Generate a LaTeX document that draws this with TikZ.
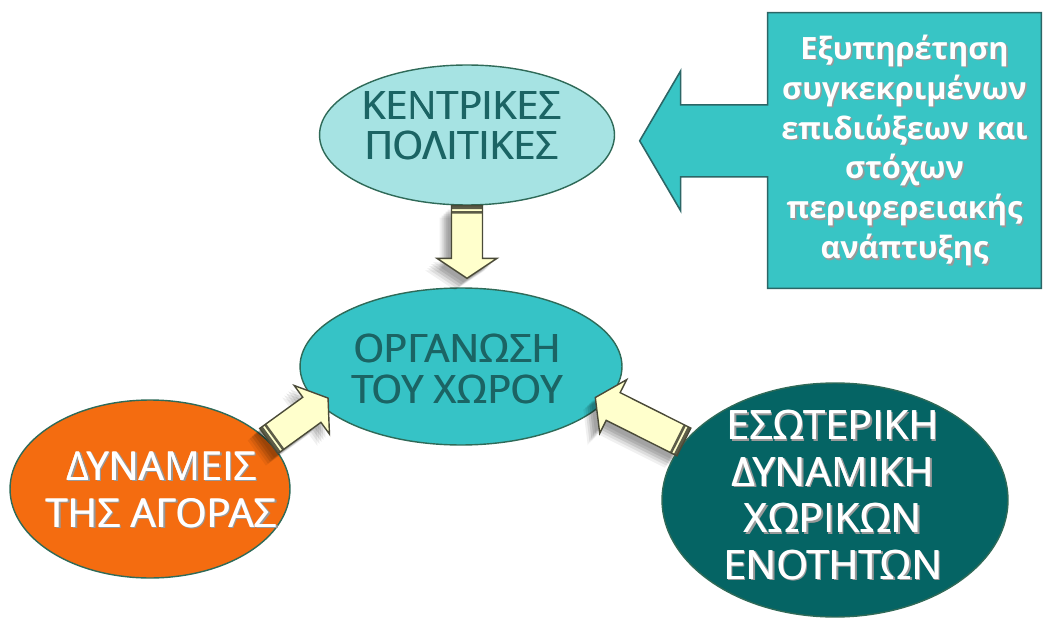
\documentclass[tikz,border=0pt]{standalone}
\usepackage{fontspec}
\newfontfamily\diagfont{Open Sans}
\usetikzlibrary{shapes.geometric,calc,backgrounds}

\definecolor{kpfill}{HTML}{A6E3E3}
\definecolor{orgfill}{HTML}{36C3C6}
\definecolor{goalfill}{HTML}{38C5C5}
\definecolor{goalline}{HTML}{2C6666}
\definecolor{darkteal}{HTML}{1B6464}
\definecolor{esofill}{HTML}{056464}
\definecolor{orangefill}{HTML}{F46C10}
\definecolor{rimline}{HTML}{2F6A58}
\definecolor{cream}{HTML}{FFFFCC}
\definecolor{creamline}{HTML}{4A4A38}
\definecolor{stripe}{HTML}{5C5C48}

% slightly heavier strokes: the text set twice, a hair apart
\newcommand\heavy[1]{\leavevmode\rlap{\kern0.5pt#1}#1}
% lettering with a soft dark drop shadow
\newcommand\shtext[1]{\leavevmode\rlap{\raisebox{-0.9pt}[0pt][0pt]{\kern0.9pt\textcolor{black!40}{#1}}}#1}
\newcommand\shheavy[1]{\leavevmode\rlap{\raisebox{-0.9pt}[0pt][0pt]{\kern0.9pt\textcolor{black!40}{\heavy{#1}}}}\heavy{#1}}

\tikzset{
  ell/.style={ellipse, draw=rimline, line width=0.8pt, inner sep=0pt},
  elltext/.style={align=center, inner sep=0pt},
  creamshape/.style={insert path={(0,-15.5) -- ({\arrowlen-20},-15.5) -- ({\arrowlen-20},-30)
      -- (\arrowlen,0) -- ({\arrowlen-20},30) -- ({\arrowlen-20},15.5) -- (0,15.5) -- cycle}},
}

% block arrow with a striped tail from #1 towards #2, lengthened by #3 (px)
\newcommand\creamarrow[3]{%
  \path let \p1=($(#2)-(#1)$) in \pgfextra{%
    \pgfmathparse{atan2(\y1,\x1)}\xdef\arrowang{\pgfmathresult}%
    \pgfmathparse{veclen(\x1,\y1)/0.569055+#3}\xdef\arrowlen{\pgfmathresult}};
  \foreach \sd/\op in {12/0.06,10/0.08,8/0.1,6/0.1,4/0.08}{
    \fill[black, opacity=\op, shift={(#1)}, shift={(-\sd,-\sd)}, rotate=\arrowang, creamshape];
  }
  \begin{scope}[shift={(#1)}, rotate=\arrowang]
    \fill[cream, creamshape];
    \fill[stripe] (0,-15.5) rectangle (3.5,15.5) (5.5,-15.5) rectangle (8,15.5);
    \draw[creamline, line width=0.8pt, line join=miter, creamshape];
  \end{scope}}

\begin{document}
\begin{tikzpicture}[x=0.02cm, y=0.02cm]
  \useasboundingbox (0,0) rectangle (1043,619);

  % the four ellipses
  \node[ell, fill=kpfill, minimum width=5.9cm, minimum height=2.8cm] (kp) at (467,484) {};
  \node[ell, fill=orgfill, minimum width=6.44cm, minimum height=3.14cm] (org) at (461,252.5) {};
  \node[ell, fill=orangefill, minimum width=5.6cm, minimum height=3.56cm] (dyn) at (150,130) {};
  \node[ell, fill=esofill, minimum width=6.92cm, minimum height=4.68cm] (eso) at (835,119) {};

  % their captions
  \node[elltext, text=darkteal, font=\diagfont\fontsize{22.3}{22.7}\selectfont] (kpt)
    at ([shift={(-6,9)}]kp.center) {\heavy{ΚΕΝΤΡΙΚΕΣ}\\\heavy{ΠΟΛΙΤΙΚΕΣ}};
  \node[elltext, text=darkteal, font=\diagfont\fontsize{22.3}{23.3}\selectfont] (orgt)
    at ([shift={(-4,-2.5)}]org.center) {\heavy{ΟΡΓΑΝΩΣΗ}\\\heavy{ΤΟΥ ΧΩΡΟΥ}};
  \node[elltext, text=white, font=\diagfont\fontsize{22.7}{26.7}\selectfont] (dynt)
    at ([shift={(11,-0.5)}]dyn.center) {\shheavy{ΔΥΝΑΜΕΙΣ}\\\shheavy{ΤΗΣ ΑΓΟΡΑΣ}};
  \node[elltext, text=white, font=\diagfont\fontsize{23}{26.5}\selectfont] (esot)
    at ([shift={(-2.5,5)}]eso.center)
    {\shheavy{ΕΣΩΤΕΡΙΚΗ}\\\shheavy{ΔΥΝΑΜΙΚΗ}\\\shheavy{ΧΩΡΙΚΩΝ}\\\shheavy{ΕΝΟΤΗΤΩΝ}};

  % left-pointing callout with the objectives
  \node[align=center, inner sep=0pt, minimum width=5.46cm, minimum height=5.5cm,
        text=white, font=\diagfont\bfseries\fontsize{17.5}{22.7}\selectfont] (goal)
    at (904.5,468.5)
    {\shtext{Εξυπηρέτηση}\\\shtext{συγκεκριμένων}\\\shtext{επιδιώξεων και}\\
     \shtext{στόχων}\\\shtext{περιφερειακής}\\\shtext{ανάπτυξης}};
  \coordinate (gw) at ([yshift=5.5]goal.west);
  \begin{scope}[on background layer]
    \fill[white] (0,0) rectangle (1043,619);
    \draw[fill=goalfill, draw=goalline, line width=0.9pt, line join=miter]
      (goal.north west) -- (goal.north east) -- (goal.south east) -- (goal.south west)
      -- ([shift={(0,-36)}]gw) -- ([shift={(-87,-36)}]gw) -- ([shift={(-87,-70)}]gw)
      -- ([shift={(-128,0)}]gw) -- ([shift={(-87,70)}]gw) -- ([shift={(-87,36)}]gw)
      -- ([shift={(0,36)}]gw) -- cycle;
  \end{scope}

  % cream block arrows into the centre
  \coordinate (dtip) at (kp.south |- org.north);
  \creamarrow{kp.south}{dtip}{-9}
  \creamarrow{dyn.22}{org.195}{11}
  \creamarrow{eso.159}{org.346}{11}
\end{tikzpicture}
\end{document}
